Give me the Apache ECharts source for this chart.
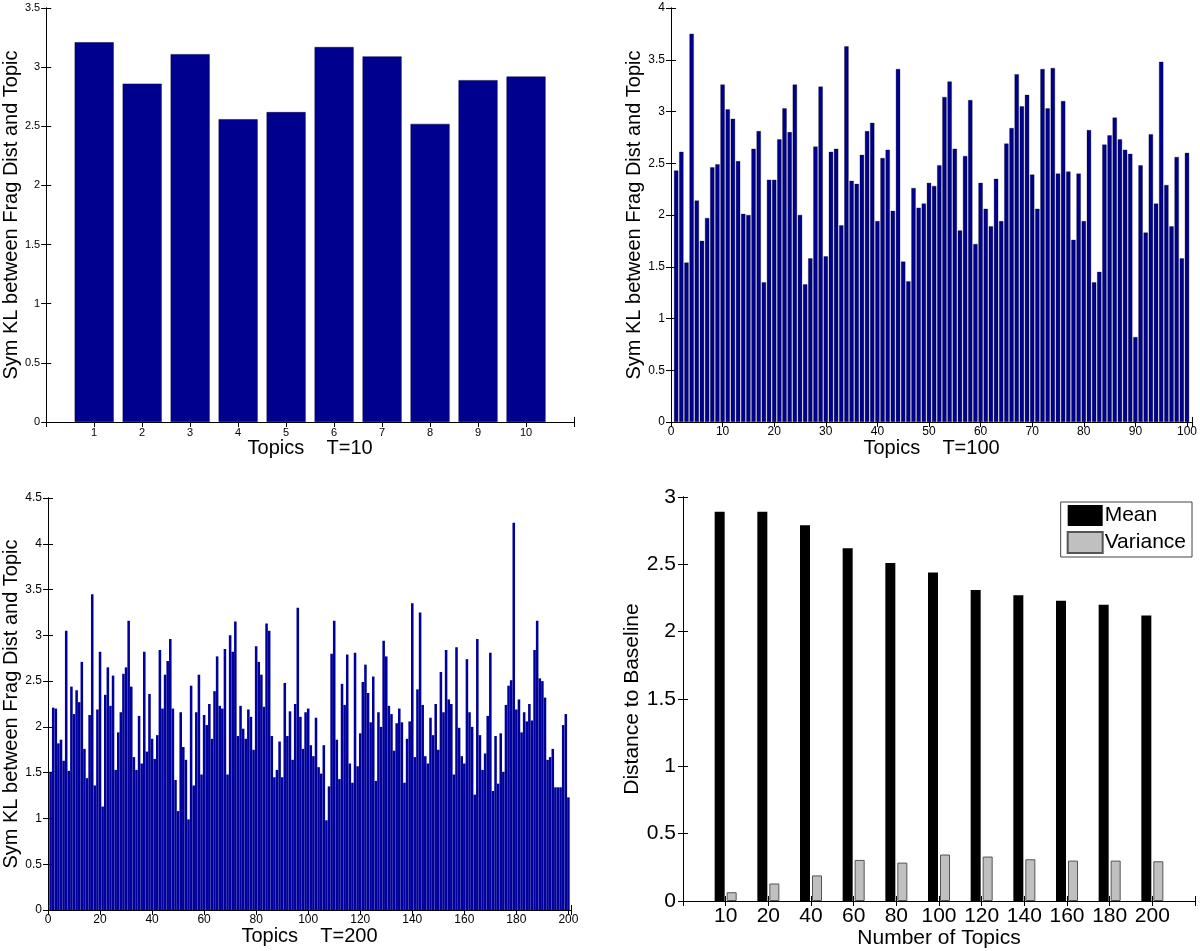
<!DOCTYPE html>
<html><head><meta charset="utf-8">
<script src="https://cdn.jsdelivr.net/npm/echarts@6/dist/echarts.min.js"></script>
<style>html,body{margin:0;padding:0;background:#fff}#c{width:1200px;height:951px}</style>
</head><body><div id="c"></div>
<script>
// ---- data ----
const t10Values = [3.21, 2.86, 3.11, 2.56, 2.62, 3.17, 3.09, 2.52, 2.89, 2.92];
const t100Values = [
  2.43, 2.61, 1.54, 3.75, 2.14, 1.75, 1.97, 2.46, 2.49, 3.26,
  3.02, 2.93, 2.52, 2.01, 2.00, 2.64, 2.81, 1.35, 2.34, 2.34,
  2.73, 3.03, 2.80, 3.26, 2.00, 1.33, 1.58, 2.66, 3.24, 1.60,
  2.61, 2.64, 1.90, 3.63, 2.33, 2.30, 2.58, 2.81, 2.89, 1.94,
  2.55, 2.63, 2.04, 3.41, 1.55, 1.36, 2.26, 2.07, 2.11, 2.31,
  2.28, 2.48, 3.14, 3.29, 2.64, 1.85, 2.57, 3.11, 1.72, 2.31,
  2.06, 1.89, 2.35, 1.94, 2.69, 2.84, 3.36, 3.05, 3.16, 2.39,
  2.06, 3.41, 3.03, 3.42, 2.40, 3.10, 2.42, 1.76, 2.40, 1.94,
  2.82, 1.35, 1.45, 2.68, 2.77, 2.94, 2.73, 2.63, 2.59, 0.82,
  2.48, 1.83, 2.78, 2.11, 3.48, 2.29, 1.89, 2.56, 1.58, 2.60
];
const t200Values = [
  1.51, 2.21, 2.20, 1.82, 1.86, 1.63, 3.05, 1.52, 2.44, 2.14,
  2.40, 2.27, 2.71, 1.76, 1.44, 2.13, 3.45, 1.36, 2.19, 2.82,
  1.13, 2.35, 2.65, 2.23, 2.56, 1.53, 1.94, 2.16, 2.58, 2.65,
  3.16, 2.44, 1.67, 1.53, 2.12, 1.60, 2.82, 1.73, 2.36, 1.87,
  1.65, 1.91, 2.84, 2.20, 2.57, 2.72, 2.96, 2.20, 1.42, 1.08,
  2.16, 1.78, 1.64, 0.99, 2.45, 1.36, 2.16, 2.57, 1.48, 2.13,
  2.02, 2.25, 1.87, 2.39, 2.77, 2.23, 2.20, 2.85, 1.48, 3.00,
  2.82, 3.15, 1.90, 2.23, 1.98, 1.87, 2.19, 2.11, 1.75, 2.88,
  2.71, 2.57, 2.22, 3.13, 3.05, 1.90, 1.45, 1.53, 1.84, 1.45,
  2.48, 1.90, 2.17, 1.64, 2.25, 3.30, 2.11, 1.76, 2.16, 2.20,
  1.80, 1.68, 2.10, 1.56, 1.49, 1.80, 0.98, 1.35, 2.80, 3.16,
  1.86, 1.43, 2.47, 2.24, 2.79, 1.60, 1.39, 2.81, 1.57, 1.93,
  2.49, 2.68, 2.37, 2.05, 2.55, 1.41, 2.16, 2.00, 2.94, 2.77,
  2.23, 2.14, 1.74, 2.04, 2.20, 2.05, 1.39, 1.87, 2.06, 3.35,
  1.67, 2.41, 3.25, 2.24, 1.68, 1.60, 2.10, 1.91, 2.25, 1.75,
  2.60, 2.16, 2.84, 2.30, 2.25, 1.48, 2.87, 1.99, 1.68, 1.60,
  2.74, 2.16, 2.00, 1.26, 2.96, 1.91, 1.53, 1.71, 2.12, 2.81,
  1.30, 1.90, 1.38, 1.93, 1.51, 2.24, 2.45, 2.51, 4.23, 2.19,
  2.30, 1.94, 2.16, 2.06, 2.25, 2.07, 2.84, 3.16, 2.53, 2.50,
  2.32, 1.64, 1.67, 1.76, 1.34, 1.34, 1.34, 2.02, 2.14, 1.23
];
const topicCounts = ['10', '20', '40', '60', '80', '100', '120', '140', '160', '180', '200'];
const meanValues = [2.89, 2.89, 2.79, 2.62, 2.51, 2.44, 2.31, 2.27, 2.23, 2.20, 2.12];
const varianceValues = [0.065, 0.13, 0.19, 0.305, 0.285, 0.345, 0.33, 0.31, 0.30, 0.30, 0.295];

// ---- styling / layout ----
const FONT = 'Liberation Sans, Arial, Helvetica, sans-serif';
const NAVY = '#00008f';

function xAxes(grid, max, interval, fmt, fs, name, nameGap, nameFs, margin) {
  return [
    { type: 'value', gridIndex: grid, position: 'bottom', min: 0, max: max, interval: interval,
      axisLine: { show: true, lineStyle: { color: '#000', width: 1 } },
      axisTick: { show: true, inside: true, length: 5, lineStyle: { color: '#000' } },
      axisLabel: { show: true, formatter: fmt, fontSize: fs, color: '#000', fontFamily: FONT, margin: margin,
                   showMinLabel: true, showMaxLabel: true, hideOverlap: false },
      splitLine: { show: false },
      name: name, nameLocation: 'middle', nameGap: nameGap,
      nameTextStyle: { fontSize: nameFs, color: '#000', fontFamily: FONT } },
    { type: 'value', gridIndex: grid, position: 'top', min: 0, max: max, interval: interval,
      axisLine: { show: true, lineStyle: { color: '#000', width: 1 } },
      axisTick: { show: true, inside: true, length: 5, lineStyle: { color: '#000' } },
      axisLabel: { show: false }, splitLine: { show: false } }
  ];
}
function yAxes(grid, max, interval, fs, name, nameGap, nameFs, margin) {
  return [
    { type: 'value', gridIndex: grid, position: 'left', min: 0, max: max, interval: interval,
      axisLine: { show: true, lineStyle: { color: '#000', width: 1 } },
      axisTick: { show: true, inside: true, length: 5, lineStyle: { color: '#000' } },
      axisLabel: { fontSize: fs, color: '#000', fontFamily: FONT, margin: margin },
      splitLine: { show: false },
      name: name, nameLocation: 'middle', nameGap: nameGap, nameRotate: 90,
      nameTextStyle: { fontSize: nameFs, color: '#000', fontFamily: FONT } },
    { type: 'value', gridIndex: grid, position: 'right', min: 0, max: max, interval: interval,
      axisLine: { show: true, lineStyle: { color: '#000', width: 1 } },
      axisTick: { show: true, inside: true, length: 5, lineStyle: { color: '#000' } },
      axisLabel: { show: false }, splitLine: { show: false } }
  ];
}

const fmtT10 = v => (v >= 1 && v <= 10) ? String(v) : '';
const fmtT100 = v => (v <= 100 && v % 10 === 0) ? String(v) : '';
const fmtT200 = v => (v <= 200 && v % 20 === 0) ? String(v) : '';
const fmtCounts = v => (v >= 1 && v <= topicCounts.length) ? topicCounts[v - 1] : '';

const option = {
  animation: false,
  backgroundColor: '#fff',
  textStyle: { fontFamily: FONT },
  grid: [
    { left: 46, top: 8, width: 528, height: 414 },
    { left: 671, top: 8, width: 526, height: 414 },
    { left: 48, top: 498, width: 523, height: 412 },
    { left: 683, top: 497, width: 512, height: 404 }
  ],
  legend: {
    data: ['Mean', 'Variance'], orient: 'vertical', right: 8, top: 502,
    itemWidth: 35, itemHeight: 21, itemGap: 5, padding: [3, 6, 3, 6],
    borderColor: '#444', borderWidth: 1, backgroundColor: '#fff',
    textStyle: { fontSize: 21, color: '#000', fontFamily: FONT, padding: [0, 0, 0, -3] },
    icon: 'rect'
  },
  xAxis: [].concat(
    xAxes(0, 11, 1, fmtT10, 11, 'Topics    T=10', 8, 20, 5),
    xAxes(1, 101, 10, fmtT100, 12, 'Topics    T=100', 8, 20, 4),
    xAxes(2, 201, 20, fmtT200, 12, 'Topics    T=200', 8, 20, 4),
    xAxes(3, 12, 1, fmtCounts, 21, 'Number of Topics', 27, 21, 5)
  ),
  yAxis: [].concat(
    yAxes(0, 3.5, 0.5, 11, 'Sym KL between Frag Dist and Topic', 22, 20, 6),
    yAxes(1, 4, 0.5, 12, 'Sym KL between Frag Dist and Topic', 24, 20, 6),
    yAxes(2, 4.5, 0.5, 12, 'Sym KL between Frag Dist and Topic', 23, 20, 6),
    yAxes(3, 3, 0.5, 21, 'Distance to Baseline', 40, 21, 7)
  ),
  series: [
    { type: 'bar', xAxisIndex: 0, yAxisIndex: 0, barWidth: 39,
      data: t10Values.map((v, i) => [i + 1, v]),
      itemStyle: { color: NAVY, borderColor: '#000040', borderWidth: 0.5 } },
    { type: 'bar', xAxisIndex: 2, yAxisIndex: 2, barWidth: 4.2,
      data: t100Values.map((v, i) => [i + 1, v]),
      itemStyle: { color: NAVY, borderColor: '#000', borderWidth: 0.3 } },
    { type: 'bar', xAxisIndex: 4, yAxisIndex: 4, barWidth: 2.55,
      data: t200Values.map((v, i) => [i + 1, v]),
      itemStyle: { color: '#00009a' } },
    { name: 'Mean', type: 'bar', xAxisIndex: 6, yAxisIndex: 6, barWidth: 10, barGap: '20%',
      data: meanValues.map((v, i) => [i + 1, v]),
      itemStyle: { color: '#000' } },
    { name: 'Variance', type: 'bar', xAxisIndex: 6, yAxisIndex: 6, barWidth: 10, barGap: '20%',
      data: varianceValues.map((v, i) => [i + 1, v]),
      itemStyle: { color: '#c0c0c0', borderColor: '#555', borderWidth: 1 } }
  ]
};

const chart = echarts.init(document.getElementById('c'), null, { renderer: 'canvas' });
chart.setOption(option);
</script>
</body></html>
